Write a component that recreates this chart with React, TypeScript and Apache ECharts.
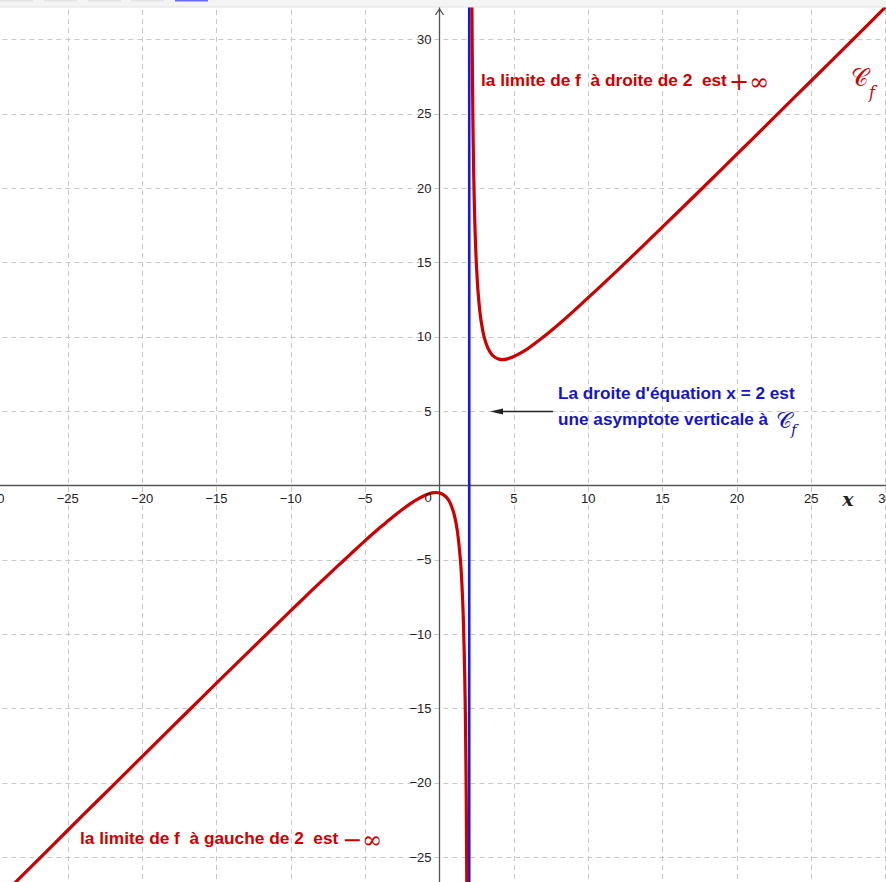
import React, { useEffect, useRef } from "react";
import * as echarts from "echarts";

// Points, branch left of the asymptote x = 2
const leftBranch: [number, number][] = [
  [-30, -28.16], [-28, -26.17], [-26, -24.18], [-24, -22.19], [-22, -20.21],
  [-20, -18.23], [-18, -16.25], [-16, -14.28], [-14, -12.31], [-12, -10.36],
  [-10, -8.42], [-9, -7.45], [-8, -6.5], [-7, -5.56], [-6, -4.63], [-5, -3.71],
  [-4, -2.83], [-3.5, -2.41], [-3, -2.0], [-2.5, -1.61], [-2, -1.25],
  [-1.5, -0.93], [-1, -0.67], [-0.75, -0.57], [-0.5, -0.5], [-0.25, -0.47],
  [0, -0.5], [0.25, -0.61], [0.5, -0.83], [0.75, -1.25], [1, -2.0],
  [1.2, -3.05], [1.4, -4.93], [1.5, -6.5], [1.6, -8.9], [1.7, -12.97],
  [1.75, -16.25], [1.8, -21.2], [1.85, -29.48],
];

// Points, branch right of the asymptote
const rightBranch: [number, number][] = [
  [2.16, 35.41], [2.2, 29.2], [2.25, 24.25], [2.3, 20.97], [2.35, 18.64],
  [2.4, 16.9], [2.45, 15.56], [2.5, 14.5], [2.6, 12.93], [2.7, 11.84],
  [2.8, 11.05], [3, 10.0], [3.25, 9.25], [3.5, 8.83], [3.75, 8.61],
  [4, 8.5], [4.25, 8.47], [4.5, 8.5], [5, 8.67], [5.5, 8.93], [6, 9.25],
  [7, 10.0], [8, 10.83], [9, 11.71], [10, 12.63], [12, 14.5], [14, 16.42],
  [16, 18.36], [18, 20.31], [20, 22.28], [22, 24.25], [24, 26.23],
  [26, 28.21], [28, 30.19], [30, 32.18],
];

// Vertical asymptote x = 2
const asymptote: [number, number][] = [[2, -40], [2, 40]];

const xExtent = [-30, 30];
const yExtent = [-30, 35];
const tickStep = 5;

const RED = "#cc0000";
const BLUE = "#1515c8";
const SANS = "Liberation Sans, Arial, sans-serif";
const SERIF = "DejaVu Serif, Liberation Serif, serif";

const fmt = (v: number) => (v === 0 ? "" : v < 0 ? "\u2212" + Math.abs(v) : String(v));

export default function App() {
  const ref = useRef<HTMLDivElement>(null);
  useEffect(() => {
    document.body.style.margin = "0";
    const chart = echarts.init(ref.current!, null, { renderer: "svg" });
    const axisLabel = { color: "#222", fontSize: 13, fontFamily: SANS, formatter: fmt, hideOverlap: false };
    const splitLine = { show: true, lineStyle: { color: "#c8c8c8", width: 1, type: [5, 4] as any } };
    chart.setOption({
      animation: false,
      backgroundColor: "#ffffff",
      grid: {
        left: -6.6, right: 0.4, top: -34.95, bottom: -49.6,
        containLabel: false, outerBoundsMode: "none",
      },
      xAxis: {
        type: "value",
        position: "bottom",
        offset: -446.1,
        min: xExtent[0],
        max: xExtent[1],
        interval: tickStep,
        axisLine: { onZero: false, lineStyle: { color: "#555", width: 1.3 } },
        axisTick: { show: false },
        axisLabel: { ...axisLabel, margin: 6 },
        splitLine,
      },
      yAxis: {
        type: "value",
        position: "left",
        offset: -446.1,
        min: yExtent[0],
        max: yExtent[1],
        interval: tickStep,
        axisLine: { onZero: false, lineStyle: { color: "#555", width: 1.3 } },
        axisTick: { show: false },
        axisLabel: { ...axisLabel, margin: 8 },
        splitLine,
      },
      series: [
        {
          type: "line",
          data: asymptote,
          symbol: "none",
          lineStyle: { color: "#1a1ad6", width: 2.6 },
          z: 3,
        },
        {
          type: "line",
          data: leftBranch,
          symbol: "none",
          smooth: 0.3,
          lineStyle: { color: RED, width: 3.2 },
          z: 4,
        },
        {
          type: "line",
          data: rightBranch,
          symbol: "none",
          smooth: 0.3,
          lineStyle: { color: RED, width: 3.2 },
          z: 4,
        },
      ],
      graphic: [
        // toolbar strip at top
        { type: "rect", z: 100, shape: { x: 0, y: 0, width: 886, height: 7 }, style: { fill: "#f4f4f4" } },
        { type: "line", z: 100, shape: { x1: 0, y1: 7, x2: 886, y2: 7 }, style: { stroke: "#e2e2e2", lineWidth: 1 } },
        { type: "rect", z: 101, shape: { x: 0, y: 0, width: 33, height: 1.5 }, style: { fill: "#e4e4e4" } },
        { type: "rect", z: 101, shape: { x: 44, y: 0, width: 33, height: 1.5 }, style: { fill: "#e4e4e4" } },
        { type: "rect", z: 101, shape: { x: 88, y: 0, width: 33, height: 1.5 }, style: { fill: "#e4e4e4" } },
        { type: "rect", z: 101, shape: { x: 131, y: 0, width: 33, height: 1.5 }, style: { fill: "#e4e4e4" } },
        { type: "rect", z: 101, shape: { x: 175, y: 0, width: 33, height: 1.5 }, style: { fill: "#6a6af2" } },
        // y-axis arrow
        { type: "polyline", z: 90, shape: { points: [[435.5, 15], [439.5, 9], [443.5, 15]] }, style: { stroke: "#555", lineWidth: 1.3, fill: "none" } },
        // origin label and x label
        { type: "text", z: 90, x: 428, y: 497, style: { text: "0", fill: "#222", fontSize: 13, fontFamily: SANS, align: "center", verticalAlign: "middle" } },
        { type: "text", z: 90, x: 848, y: 499, style: { text: "x", fill: "#222", fontSize: 19, fontStyle: "italic", fontWeight: "bold", fontFamily: SERIF, align: "center", verticalAlign: "middle" } },
        // right limit annotation
        { type: "text", z: 90, x: 481, y: 80, style: { text: "la limite de f  à droite de 2  est", fill: RED, fontSize: 17.3, fontWeight: "bold", fontFamily: SANS, align: "left", verticalAlign: "middle" } },
        { type: "text", z: 90, x: 729, y: 82, style: { text: "+∞", fill: RED, fontSize: 24, fontFamily: SERIF, align: "left", verticalAlign: "middle" } },
        // curve name
        { type: "text", z: 90, x: 851, y: 78, style: { text: "𝒞", fill: RED, fontSize: 24, fontFamily: SERIF, align: "left", verticalAlign: "middle" } },
        { type: "text", z: 90, x: 869, y: 92, style: { text: "f", fill: RED, fontSize: 16, fontStyle: "italic", fontFamily: SERIF, align: "left", verticalAlign: "middle" } },
        // asymptote annotation
        { type: "text", z: 90, x: 558, y: 393, style: { text: "La droite d'équation x = 2 est", fill: BLUE, fontSize: 17.2, fontWeight: "bold", fontFamily: SANS, align: "left", verticalAlign: "middle" } },
        { type: "text", z: 90, x: 558, y: 419, style: { text: "une asymptote verticale à", fill: BLUE, fontSize: 17.2, fontWeight: "bold", fontFamily: SANS, align: "left", verticalAlign: "middle" } },
        { type: "text", z: 90, x: 776, y: 420, style: { text: "𝒞", fill: BLUE, fontSize: 22, fontFamily: SERIF, align: "left", verticalAlign: "middle" } },
        { type: "text", z: 90, x: 791, y: 430, style: { text: "f", fill: BLUE, fontSize: 15, fontStyle: "italic", fontFamily: SERIF, align: "left", verticalAlign: "middle" } },
        { type: "line", z: 90, shape: { x1: 553, y1: 411.5, x2: 500, y2: 411.5 }, style: { stroke: "#222", lineWidth: 1.5 } },
        { type: "polygon", z: 90, shape: { points: [[490, 411.5], [503, 408.5], [503, 414.5]] }, style: { fill: "#222" } },
        // left limit annotation
        { type: "text", z: 90, x: 80, y: 838, style: { text: "la limite de f  à gauche de 2  est", fill: RED, fontSize: 17.3, fontWeight: "bold", fontFamily: SANS, align: "left", verticalAlign: "middle" } },
        { type: "text", z: 90, x: 342, y: 840, style: { text: "−∞", fill: RED, fontSize: 24, fontFamily: SERIF, align: "left", verticalAlign: "middle" } },
      ],
    });
    return () => chart.dispose();
  }, []);
  return <div ref={ref} style={{ width: 886, height: 882, position: "fixed", left: 0, top: 0 }} />;
}
